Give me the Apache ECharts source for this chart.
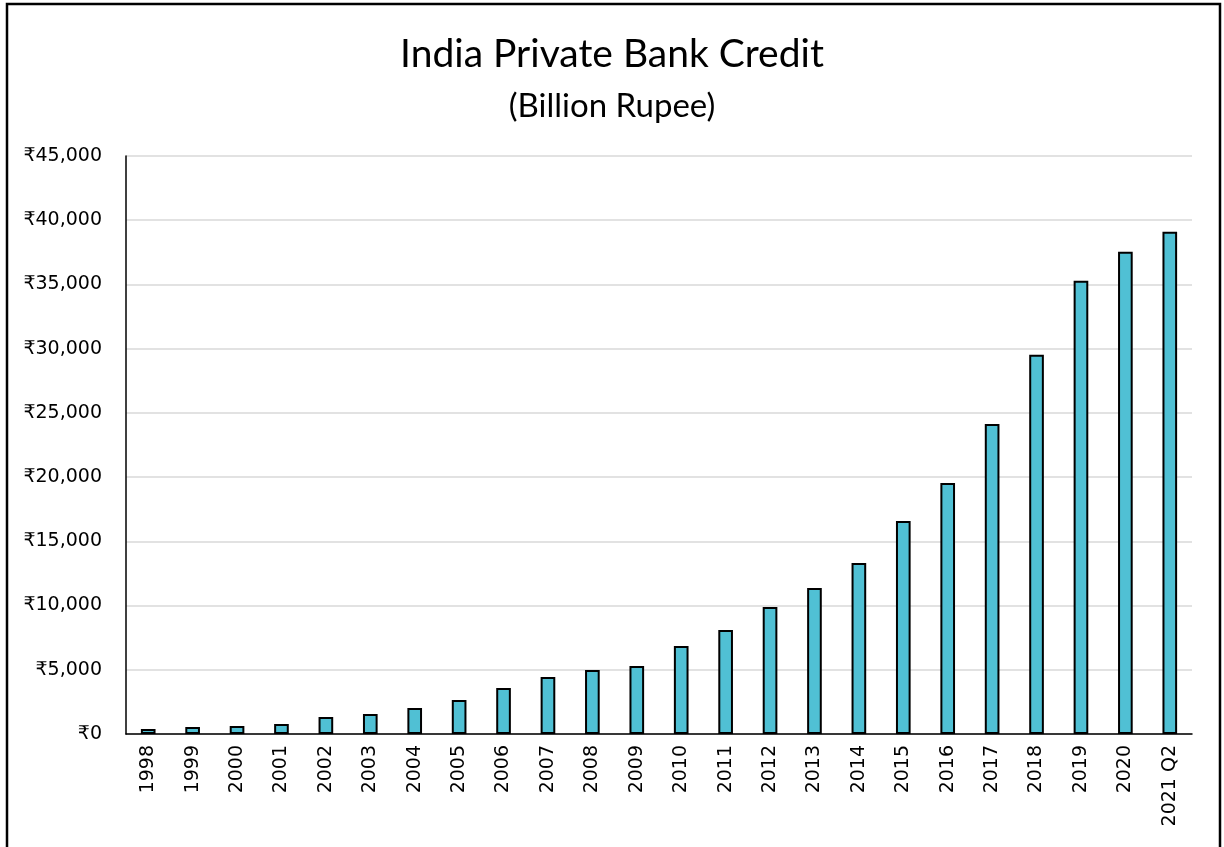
<!DOCTYPE html>
<html>
<head>
<meta charset="utf-8">
<script src="https://cdn.jsdelivr.net/npm/echarts@6/dist/echarts.min.js"></script>
<style>
  html, body { margin: 0; padding: 0; background: #fff; }
  #chart { width: 1224px; height: 847px; }
</style>
</head>
<body>
<div id="chart"></div>
<script>
// years on the x axis
var years = ['1998','1999','2000','2001','2002','2003','2004','2005','2006','2007','2008','2009',
             '2010','2011','2012','2013','2014','2015','2016','2017','2018','2019','2020','2021 Q2'];
// credit, billion rupee
var credit = [390, 545, 620, 780, 1320, 1560, 2020, 2650, 3580, 4440, 4980, 5300,
              6850, 8100, 9890, 11370, 13320, 16590, 19550, 24140, 29520, 35280, 37540, 39100];

var yMax = 45000;
var yStep = 5000;

var myChart = echarts.init(document.getElementById('chart'));
var option = {
    animation: false,
    graphic: [
        {
            type: 'rect',
            shape: { x: 7, y: 4, width: 1213, height: 900 },
            style: { fill: 'none', stroke: '#000', lineWidth: 2.5 },
            silent: true
        }
    ],
    title: {
        text: 'India Private Bank Credit',
        subtext: '(Billion Rupee)',
        left: 'center',
        top: 30,
        itemGap: 16,
        textStyle: { fontFamily: 'Lato', fontSize: 39, fontWeight: 'normal', color: '#000' },
        subtextStyle: { fontFamily: 'Lato', fontSize: 33, color: '#000' }
    },
    grid: { left: 126, right: 32, top: 156, bottom: 113, containLabel: false },
    xAxis: {
        type: 'category',
        data: years,
        axisLine: { lineStyle: { color: '#000', width: 1.5 } },
        axisTick: { show: false },
        axisLabel: {
            rotate: 90,
            interval: 0,
            margin: 11,
            color: '#000',
            fontFamily: 'DejaVu Sans',
            fontSize: 19
        }
    },
    yAxis: {
        type: 'value',
        min: 0,
        max: yMax,
        interval: yStep,
        axisLine: { show: true, lineStyle: { color: '#000', width: 1.5 } },
        axisTick: { show: false },
        splitLine: { lineStyle: { color: '#d9d9d9', width: 1.5 } },
        axisLabel: {
            margin: 24,
            color: '#000',
            fontFamily: 'DejaVu Sans',
            fontSize: 19,
            formatter: function (v) { return '₹' + v.toLocaleString('en-US'); }
        }
    },
    series: [
        {
            type: 'bar',
            data: credit,
            barWidth: '33%',
            itemStyle: { color: '#50C0D4', borderColor: '#000', borderWidth: 2 }
        }
    ]
};
myChart.setOption(option);
</script>
</body>
</html>
